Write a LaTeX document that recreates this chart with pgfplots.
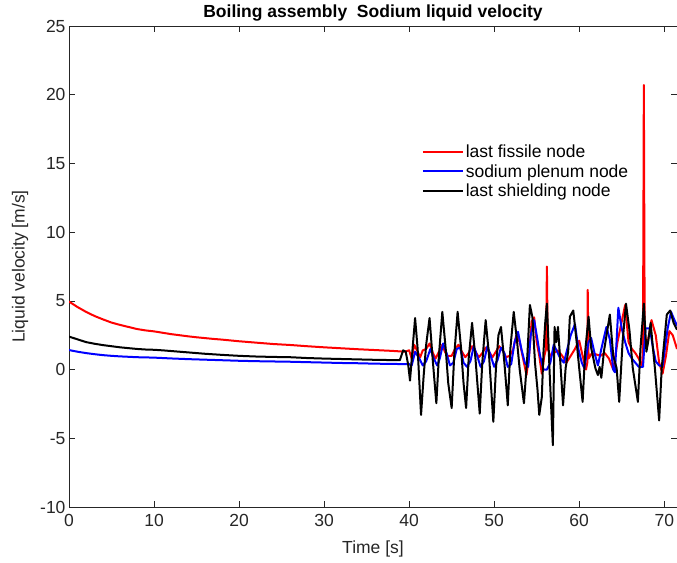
\documentclass[border=0pt]{standalone}
\usepackage{pgfplots}
\pgfplotsset{compat=1.18}
\usepackage{fontspec}
\setmainfont{Liberation Sans}
\definecolor{axgray}{gray}{0.15}
\begin{document}
\begin{tikzpicture}
\begin{axis}[name=ax,
  width=608bp, height=481bp, scale only axis,
  xmin=0, xmax=71.5, ymin=-10, ymax=25,
  xtick={0,10,...,70}, ytick={-10,-5,...,25},
  tick align=inside, major tick length=6bp,
  axis line style={axgray, line width=0.6bp},
  tick style={axgray, line width=0.6bp},
  every tick label/.append style={font=\fontsize{17.5bp}{20bp}\selectfont, text=axgray},
  xticklabel shift=4bp,
  /pgf/number format/assume math mode=true,
  xlabel={Time [s]}, ylabel={Liquid velocity [m/s]},
  xlabel shift=7bp, ylabel shift=5bp,
  label style={font=\fontsize{17.5bp}{20bp}\selectfont, text=axgray},
  title={\textbf{Boiling assembly\ \ Sodium liquid velocity}},
  title style={font=\fontsize{17.5bp}{20bp}\selectfont, yshift=-5bp},
  legend style={at={(0.575,0.762)}, anchor=north west, draw=none, fill=none,
    font=\fontsize{17.5bp}{20bp}\selectfont, row sep=1.5bp},
  legend cell align=left,
  legend image code/.code={\draw[#1] (0bp,0bp) -- (40bp,0bp);},
  legend image post style={line width=2bp},
  every axis plot/.append style={line width=2bp, line join=round},
  clip=true,
]
\addplot[red] coordinates {
(0,4.95)(0.5,4.75)(1,4.55)(2,4.2)(3,3.9)(4,3.65)(5,3.42)(6,3.25)(7,3.1)(8,2.95)(9,2.85)(10,2.78)(11,2.68)
(12,2.58)(13,2.5)(14,2.42)(15,2.35)(16,2.29)(17,2.23)(18,2.18)(19,2.12)(20,2.06)(22,1.96)(24,1.86)(26,1.79)
(28,1.7)(30,1.62)(32,1.55)(34,1.48)(36,1.42)(38,1.36)(39.5,1.3)
(40.0,1.4)(40.3,0.8)(40.6,1.8)(41.0,1.3)(41.3,0.9)(41.6,1.4)(42.0,1.5)(42.4,1.9)(42.8,1.2)(43.1,0.8)(43.5,1.3)
(43.9,1.8)(44.2,1.3)(44.5,1.0)(45.0,1.0)(45.4,1.5)(45.8,1.8)(46.2,1.3)(46.6,0.9)(47.0,1.2)(47.4,1.7)(47.8,1.3)
(48.2,0.9)(48.6,1.2)(49.0,1.6)(49.4,1.3)(49.8,0.9)(50.2,1.3)(50.6,1.7)(51.0,1.4)(51.4,0.9)(51.8,1.0)(52.2,1.4)
(52.6,2.5)(53.0,2.0)(53.5,0.5)(53.8,-0.4)(54.1,1.0)(54.4,3.5)(54.7,3.8)(55.0,2.0)(55.3,1.0)(55.6,-0.3)(55.9,1.0)
(56.1,1.5)(56.2,7.5)(56.3,1.5)(56.6,1.0)(57.0,1.2)(57.5,1.4)(58.0,1.0)(58.5,0.5)(59.0,1.0)(59.5,1.5)(60.0,2.1)
(60.4,1.0)(60.8,0.0)(60.95,0.5)(61.0,5.8)(61.1,0.8)(61.5,1.2)(62.0,1.1)(62.5,1.0)(63.0,1.2)(63.5,0.8)(64.0,0.0)
(64.5,2.0)(65.0,3.5)(65.4,4.7)(65.8,2.0)(66.2,1.5)(66.6,1.2)(67.0,0.8)(67.4,0.2)(67.5,2.0)(67.6,20.7)(67.7,2.5)
(68.0,1.8)(68.5,3.6)(69.0,2.5)(69.4,0.5)(69.8,-0.3)(70.2,1.0)(70.6,2.8)(71.0,2.5)(71.5,1.5)
};
\addlegendentry{last fissile node}
\addplot[blue] coordinates {
(0,1.42)(1,1.3)(2,1.2)(3,1.12)(4,1.05)(5,1.0)(6,0.96)(7,0.93)(8,0.9)(10,0.87)(12,0.81)(14,0.76)(16,0.72)
(18,0.68)(20,0.64)(22,0.61)(24,0.59)(26,0.57)(28,0.54)(30,0.51)(32,0.48)(34,0.46)(36,0.43)(38,0.41)(39.5,0.4)
(40.0,0.4)(40.3,0.3)(40.7,1.3)(41.2,0.8)(41.6,0.3)(42.0,0.6)(42.5,1.5)(42.9,0.8)(43.3,0.3)(43.6,0.8)(44.0,1.9)
(44.4,1.2)(44.8,0.3)(45.2,0.5)(45.6,1.5)(46.0,1.6)(46.4,0.5)(46.8,0.2)(47.2,0.6)(47.6,1.7)(48.0,1.0)(48.4,0.2)
(48.8,0.6)(49.2,1.7)(49.6,1.0)(50.0,0.2)(50.4,0.7)(50.8,1.6)(51.2,1.2)(51.6,0.2)(52.0,0.4)(52.4,2.0)(52.8,2.75)
(53.2,1.5)(53.6,0.5)(54.0,0.2)(54.3,2.5)(54.7,3.6)(55.0,2.5)(55.4,1.0)(55.8,0.0)(56.2,0.0)(56.6,0.5)(57.0,1.8)
(57.4,1.3)(57.8,0.8)(58.2,0.5)(58.6,1.5)(59.0,2.5)(59.5,3.3)(59.9,1.5)(60.3,0.5)(60.6,0.1)(61.1,2.0)(61.4,2.3)
(61.8,1.2)(62.2,0.3)(62.6,1.5)(63.2,3.1)(63.6,2.2)(64.0,0.0)(64.2,-0.2)(64.6,4.5)(65.0,3.0)(65.4,2.0)(65.8,1.2)
(66.2,0.8)(66.6,0.5)(67.0,0.2)(67.5,0.2)(67.8,3.0)(68.3,3.0)(68.7,1.5)(69.0,0.6)(69.4,0.3)(69.8,0.25)(70.4,3.0)
(70.8,4.2)(71.2,3.6)(71.5,3.2)
};
\addlegendentry{sodium plenum node}
\addplot[black] coordinates {
(0,2.4)(1,2.2)(2,2.0)(3,1.88)(4,1.78)(5,1.7)(6,1.62)(7,1.56)(8,1.5)(9,1.46)(10,1.44)(11,1.4)(12,1.35)(14,1.25)
(16,1.15)(18,1.07)(20,1.0)(22,0.95)(24,0.92)(26,0.9)(28,0.84)(30,0.8)(32,0.77)(34,0.74)(36,0.71)(38,0.69)(38.9,0.68)
(39.3,1.4)(39.6,1.3)(39.9,0.3)(40.1,-0.8)(40.4,1.5)(40.7,3.75)(41.0,1.5)(41.4,-3.3)(41.7,-0.5)(42.0,1.8)(42.4,3.75)
(42.8,0.5)(43.2,-2.45)(43.5,1.0)(43.9,4.2)(44.3,1.5)(44.6,-1.0)(45.0,-2.8)(45.3,1.0)(45.7,4.2)(46.1,1.6)(46.4,-1.0)
(46.7,-2.8)(47.0,0.8)(47.4,3.4)(47.8,0.8)(48.3,-3.2)(48.6,0.5)(49.0,3.6)(49.4,1.0)(49.9,-3.8)(50.2,0.0)(50.5,2.5)
(50.8,3.1)(51.2,0.5)(51.6,-2.6)(51.9,1.5)(52.3,4.2)(52.7,2.0)(53.0,0.0)(53.5,-2.45)(53.9,1.0)(54.2,4.7)(54.5,3.8)
(54.8,0.5)(55.1,-1.5)(55.3,-3.3)(55.6,-2.0)(55.8,1.3)(56.0,3.4)(56.2,4.8)(56.5,0.1)(56.9,-5.5)(57.1,3.1)(57.3,2.0)
(57.5,3.1)(57.7,1.3)(58.1,-2.6)(58.4,0.1)(58.7,1.3)(58.9,3.85)(59.3,4.3)(59.7,2.0)(60.0,0.1)(60.4,-2.35)(60.7,1.3)
(61.1,3.85)(61.4,1.6)(61.7,0.7)(61.9,0.1)(62.2,-0.4)(62.4,0.2)(62.6,-0.6)(62.9,1.3)(63.6,4.0)(64.0,1.0)(64.4,0.1)
(64.7,-2.35)(65.1,2.0)(65.5,4.8)(65.9,2.9)(66.3,0.1)(66.9,-2.35)(67.2,1.5)(67.6,4.8)(67.9,1.3)(68.1,2.0)(68.4,3.4)
(68.6,2.0)(68.9,0.1)(69.4,-3.7)(69.7,0.1)(70.3,4.0)(70.7,4.3)(71.1,3.4)(71.5,2.9)
};
\addlegendentry{last shielding node}
\end{axis}
\pgfresetboundingbox
\path ([shift={(-69bp,-55bp)}]ax.south west) rectangle ([shift={(0bp,26bp)}]ax.north east);
\end{tikzpicture}
\end{document}
